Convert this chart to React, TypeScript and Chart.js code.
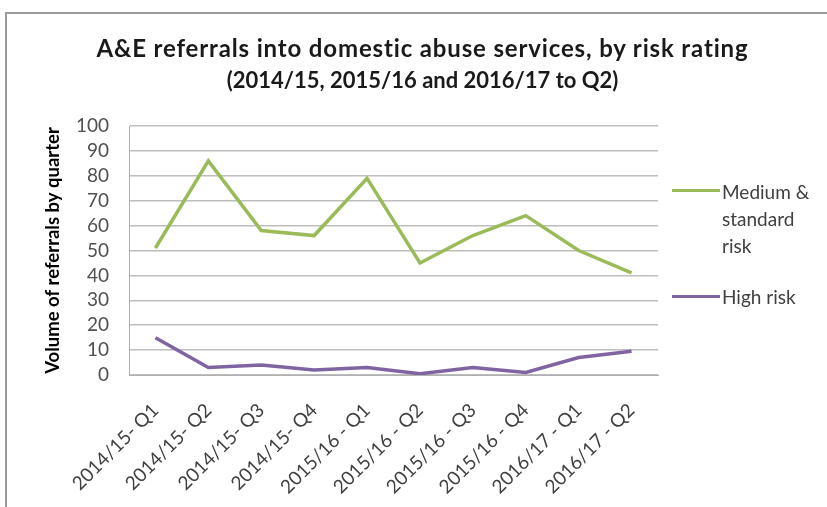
import React, { useEffect, useRef } from "react";
import { Chart, registerables } from "chart.js";

Chart.register(...registerables);

const categories = [
  "2014/15- Q1",
  "2014/15- Q2",
  "2014/15- Q3",
  "2014/15- Q4",
  "2015/16 - Q1",
  "2015/16 - Q2",
  "2015/16 - Q3",
  "2015/16 - Q4",
  "2016/17 - Q1",
  "2016/17 - Q2",
];
const mediumStandardRisk = [51, 86, 58, 56, 79, 45, 56, 64, 50, 41];
const highRisk = [15, 3, 4, 2, 3, 0.5, 3, 1, 7, 9.5];
const yMin = 0;
const yMax = 100;
const yStep = 10;

const titleLines = [
  "A&E referrals into domestic abuse services, by risk rating",
  "(2014/15, 2015/16 and 2016/17 to Q2)",
];
const yAxisTitle = "Volume of referrals by quarter";
const legendMedium = ["Medium &", "standard", "risk"];
const legendHigh = "High risk";

const GREEN = "#9bbb59";
const PURPLE = "#8064a2";
const FONT = "Lato, 'Open Sans', sans-serif";

export default function App() {
  const canvasRef = useRef<HTMLCanvasElement | null>(null);

  useEffect(() => {
    const canvas = canvasRef.current;
    if (!canvas) return;
    const chart = new Chart(canvas, {
      type: "line",
      data: {
        labels: categories,
        datasets: [
          {
            label: "Medium & standard risk",
            data: mediumStandardRisk,
            borderColor: GREEN,
            backgroundColor: GREEN,
            borderWidth: 3.5,
            pointRadius: 0,
            tension: 0,
          },
          {
            label: "High risk",
            data: highRisk,
            borderColor: PURPLE,
            backgroundColor: PURPLE,
            borderWidth: 3.5,
            pointRadius: 0,
            tension: 0,
          },
        ],
      },
      options: {
        animation: false,
        responsive: false,
        maintainAspectRatio: false,
        layout: { padding: { top: 126, right: 169, left: 0, bottom: 0 } },
        plugins: {
          legend: { display: false },
          title: { display: false },
          tooltip: { enabled: false },
        },
        scales: {
          x: {
            offset: true,
            grid: { display: false },
            border: { display: true, color: "#b0b0b0", width: 1 },
            ticks: {
              autoSkip: false,
              maxRotation: 45,
              minRotation: 45,
              padding: 16,
              color: "#404040",
              font: { family: FONT, size: 19 },
            },
            afterFit: (scale: any) => {
              scale.height = 132;
            },
          },
          y: {
            min: yMin,
            max: yMax,
            ticks: {
              stepSize: yStep,
              autoSkip: false,
              padding: 20,
              color: "#505050",
              font: { family: FONT, size: 19 },
            },
            grid: { color: "#bdbdbd", lineWidth: 1.5, drawTicks: false },
            border: { display: true, color: "#b0b0b0", width: 1 },
            title: {
              display: true,
              text: yAxisTitle,
              color: "#000000",
              font: { family: FONT, size: 18.5, weight: "bold" },
              padding: { top: 42, bottom: 0 },
            },
            afterFit: (scale: any) => {
              scale.width = 129;
            },
          },
        },
      },
    });
    return () => chart.destroy();
  }, []);

  return (
    <div
      style={{
        position: "fixed",
        left: 0,
        top: 0,
        width: 827,
        height: 507,
        background: "#ffffff",
        overflow: "hidden",
        fontFamily: FONT,
      }}
    >
      <div
        style={{
          position: "absolute",
          left: 5,
          top: 12,
          width: 840,
          height: 520,
          border: "2px solid #9a9a9a",
          boxSizing: "border-box",
        }}
      />
      <canvas
        ref={canvasRef}
        width={827}
        height={507}
        style={{ position: "absolute", left: 0, top: 0, width: 827, height: 507 }}
      />
      <div
        style={{
          position: "absolute",
          left: 0,
          top: 32,
          width: 845,
          textAlign: "center",
          fontWeight: "bold",
          color: "#1a1a1a",
        }}
      >
        <div style={{ fontSize: 24, lineHeight: "32px", letterSpacing: "0.85px", whiteSpace: "nowrap" }}>
          {titleLines[0]}
        </div>
        <div style={{ fontSize: 22, lineHeight: "32px", whiteSpace: "nowrap" }}>{titleLines[1]}</div>
      </div>
      <div
        style={{
          position: "absolute",
          left: 672,
          top: 178,
          fontSize: 19,
          lineHeight: "27px",
          color: "#404040",
        }}
      >
        <div style={{ position: "absolute", left: 0, top: 11, width: 48, height: 3, background: GREEN }} />
        <div style={{ position: "absolute", left: 50, top: 0, whiteSpace: "nowrap" }}>
          {legendMedium.map((t, i) => (
            <div key={i}>{t}</div>
          ))}
        </div>
        <div style={{ position: "absolute", left: 0, top: 117, width: 48, height: 3, background: PURPLE }} />
        <div style={{ position: "absolute", left: 50, top: 105, whiteSpace: "nowrap" }}>{legendHigh}</div>
      </div>
    </div>
  );
}
